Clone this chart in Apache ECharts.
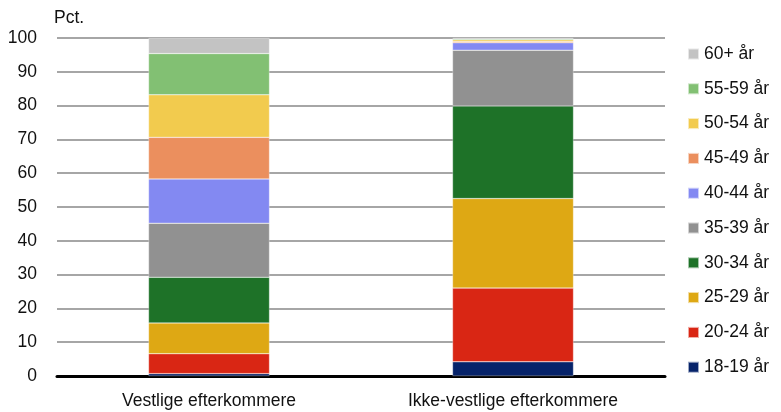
<!DOCTYPE html>
<html>
<head>
<meta charset="utf-8">
<script src="https://cdn.jsdelivr.net/npm/echarts@6/dist/echarts.min.js"></script>
<style>
html,body{margin:0;padding:0;background:#fff;}
#chart{width:781px;height:412px;}
</style>
</head>
<body>
<div id="chart"></div>
<script>
const categories = ['Vestlige efterkommere', 'Ikke-vestlige efterkommere'];
const seriesNames = ['18-19 år','20-24 år','25-29 år','30-34 år','35-39 år','40-44 år','45-49 år','50-54 år','55-59 år','60+ år'];
const v18_19 = [0.7, 4.2];
const v20_24 = [5.9, 21.8];
const v25_29 = [9.1, 26.5];
const v30_34 = [13.5, 27.4];
const v35_39 = [16.0, 16.5];
const v40_44 = [13.1, 2.2];
const v45_49 = [12.3, 0.4];
const v50_54 = [12.6, 0.5];
const v55_59 = [12.2, 0.3];
const v60p = [4.6, 0.2];
const yTicks = [0,10,20,30,40,50,60,70,80,90,100];
const colors = ['#06236a','#d92614','#dea814','#1e7228','#919191','#8389f2','#eb8f5e','#f2cb4e','#82c073','#c3c3c3'];
const allValues = [v18_19,v20_24,v25_29,v30_34,v35_39,v40_44,v45_49,v50_54,v55_59,v60p];

const FONT = '"Liberation Sans", Arial, sans-serif';
const FS = 17.5;
const chart = echarts.init(document.getElementById('chart'));
chart.setOption({
  animation: false,
  textStyle: {fontFamily: FONT},
  grid: {left: 57, right: 116, top: 38, bottom: 36, containLabel: false},
  graphic: [{type:'text', left: 54, top: 9, style:{text:'Pct.', font: FS + 'px ' + FONT, fill:'#111'}}],
  legend: {
    orient: 'vertical', left: 682, top: 39,
    data: seriesNames.slice().reverse(),
    itemWidth: 11, itemHeight: 11, itemGap: 14.8,
    icon: 'rect',
    textStyle: {fontSize: FS, color: '#111', lineHeight: 20, fontFamily: FONT},
    selectedMode: false
  },
  xAxis: {
    type: 'category', data: categories,
    axisLine: {lineStyle: {color: '#000', width: 3}},
    axisTick: {show: false},
    axisLabel: {fontSize: FS, color: '#111', margin: 16, fontFamily: FONT, interval: 0}
  },
  yAxis: {
    type: 'value', min: yTicks[0], max: yTicks[yTicks.length-1], interval: 10,
    axisLine: {show: false}, axisTick: {show: false},
    axisLabel: {fontSize: FS, color: '#111', margin: 20, fontFamily: FONT},
    splitLine: {lineStyle: {color: '#a6a6a6', width: 2}}
  },
  series: seriesNames.map((n, i) => ({
    name: n, type: 'bar', stack: 'total', barWidth: 121,
    data: allValues[i],
    itemStyle: {color: colors[i], borderColor: 'rgba(255,255,255,0.6)', borderWidth: 0.5}
  }))
});
</script>
</body>
</html>
